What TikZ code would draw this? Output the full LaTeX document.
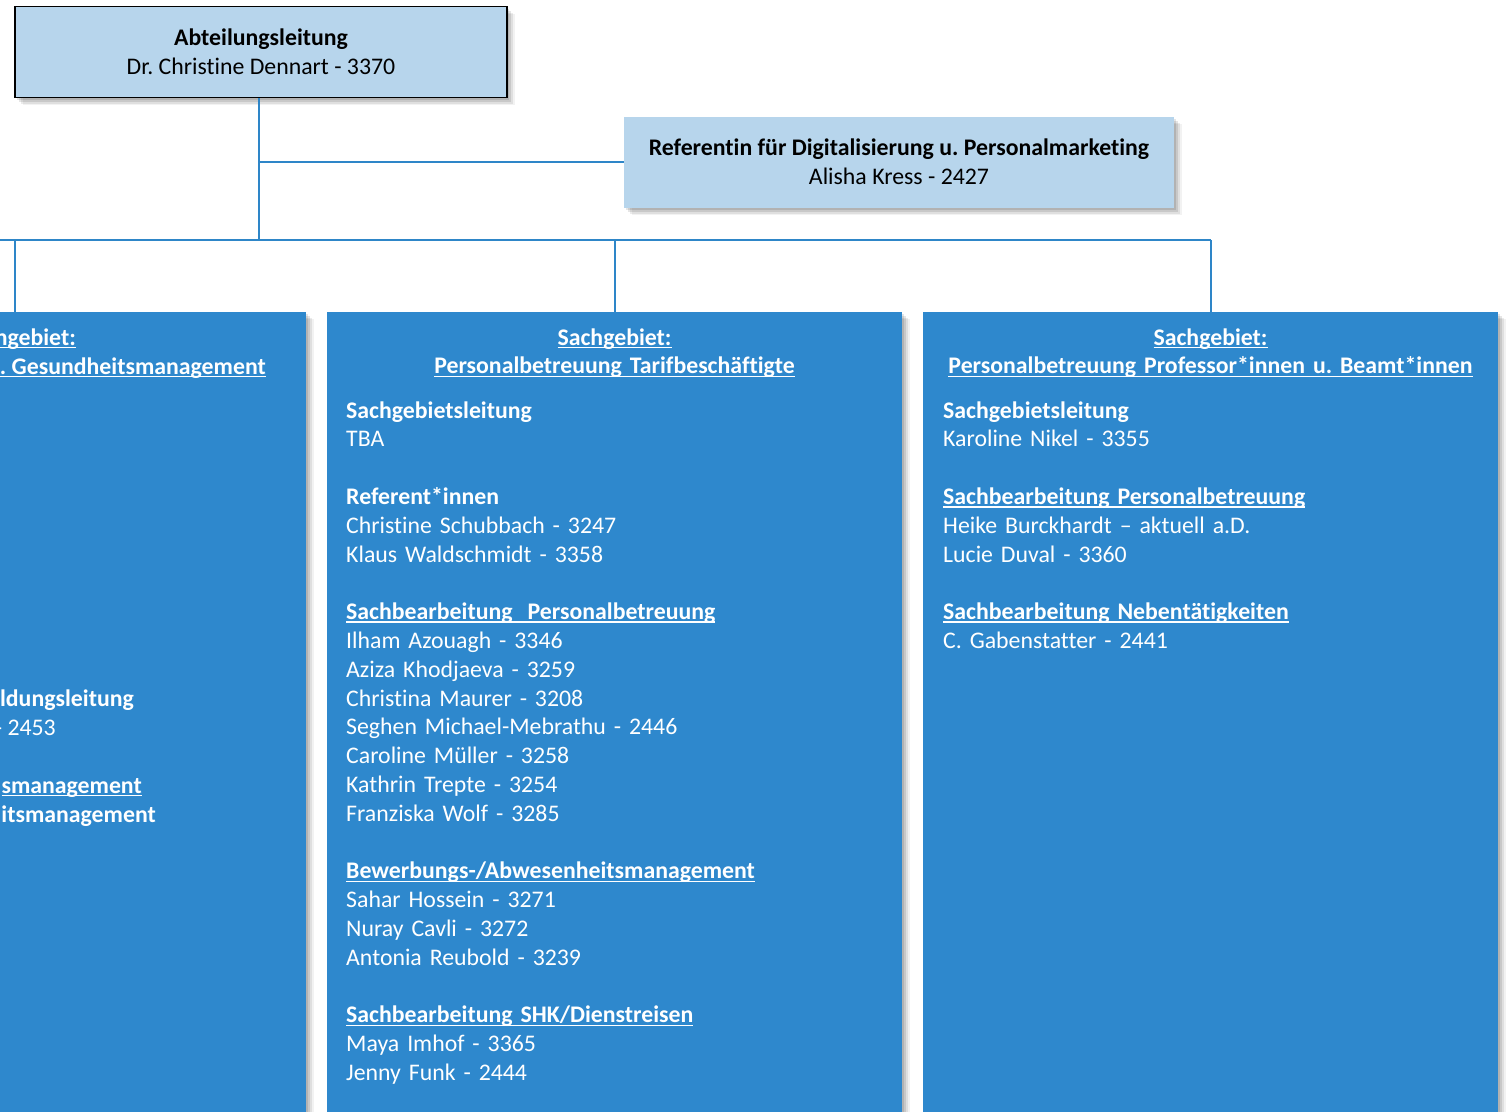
\documentclass[tikz,border=0pt]{standalone}
\usepackage{fontspec}
\setmainfont{Carlito}[Ligatures=NoCommon]
\usetikzlibrary{shadows}
\frenchspacing
\definecolor{lightbox}{HTML}{B7D5EC}
\definecolor{darkbox}{HTML}{2E88CD}
\definecolor{linkblue}{HTML}{2E86C8}
\newlength\myulw
\newcommand\myul[1]{\leavevmode\settowidth\myulw{#1}\rlap{\rule[-3.4pt]{\myulw}{1.6pt}}#1}
\tikzset{
  softshadow/.style={
    general shadow={shadow xshift=2pt, shadow yshift=-2pt, fill=black, opacity=.10},
    general shadow={shadow xshift=4pt, shadow yshift=-4pt, fill=black, opacity=.10},
    general shadow={shadow xshift=6pt, shadow yshift=-6pt, fill=black, opacity=.08},
    general shadow={shadow xshift=8pt, shadow yshift=-7pt, fill=black, opacity=.05}},
  txt/.style={font=\fontsize{23.8pt}{28.8pt}\selectfont\frenchspacing, inner sep=0pt},
  headbox/.style={txt, fill=lightbox, minimum height=91pt, align=center, softshadow},
  unitbox/.style={fill=darkbox, minimum width=575pt, minimum height=830pt, inner sep=0pt, softshadow},
  conn/.style={draw=linkblue, line width=2pt},
  body/.style={txt, text=white, text width=540pt, align=left, anchor=base west},
  head/.style={txt, text=white, text width=560pt, align=center, anchor=base, font=\fontsize{23.8pt}{28.8pt}\selectfont\frenchspacing\bfseries},
  cut/.style={txt, text=white, anchor=base east},
  cutb/.style={cut, font=\fontsize{23.8pt}{28.8pt}\selectfont\bfseries},
}
\begin{document}
\begin{tikzpicture}[x=1pt, y=-1pt]
\clip (0,0) rectangle (1507,1111);
\fill[white] (0,0) rectangle (1507,1111);
% connector points
\coordinate (busL) at (-20,240);
\coordinate (busY) at (259,240);
% boxes
\node[headbox, draw=black, line width=1.3pt, minimum width=492pt] (top) at (261,52)
  {\textbf{Abteilungsleitung}\\Dr. Christine Dennart - 3370};
\node[headbox, minimum width=550pt] (ref) at (899,162)
  {\textbf{Referentin für Digitalisierung u. Personalmarketing}\\Alisha Kress - 2427};
\node[unitbox] (left) at (18.5,727) {};
\node[unitbox] (mid) at (614.5,727) {};
\node[unitbox] (right) at (1210.5,727) {};
% connectors
\draw[conn] (top.south -| busY) -- (busY);
\draw[conn] (ref.west -| busY) -- (ref.west);
\draw[conn] (busL) -- (right.north |- busY);
\draw[conn] ([xshift=-3.5pt]left.north |- busY) -- ([xshift=-3.5pt]left.north);
\draw[conn] (mid.north |- busY) -- (mid.north);
\draw[conn] (right.north |- busY) -- (right.north);
% left box (cut off)
\node[cutb] (lh1) at (76,345) {\myul{ngebiet:}};
\node[cutb] (lh2) at (266,374) {\myul{. Gesundheitsmanagement}};
\node[cutb] (lb1) at (134,706) {ldungsleitung};
\node[cut] (lb2) at (56,735) {- 2453};
\node[cutb] (lb3) at (142,793) {\myul{smanagement}};
\node[cutb] (lb4) at (156,822) {itsmanagement};
% middle box
\node[head] (mh) at (614.5,345) {\myul{Sachgebiet:}\\\myul{Personalbetreuung Tarifbeschäftigte}};
\node[body] (mb) at (346,418) {%
\textbf{Sachgebietsleitung}\\
TBA\\
~\\
\textbf{Referent*innen}\\
Christine Schubbach - 3247\\
Klaus Waldschmidt - 3358\\
~\\
\textbf{\myul{Sachbearbeitung\hspace{0.3em} Personalbetreuung}}\\
Ilham Azouagh - 3346\\
Aziza Khodjaeva - 3259\\
Christina Maurer - 3208\\
Seghen Michael-Mebrathu - 2446\\
Caroline Müller - 3258\\
Kathrin Trepte - 3254\\
Franziska Wolf - 3285\\
~\\
\textbf{\myul{Bewerbungs-/Abwesenheitsmanagement}}\\
Sahar Hossein - 3271\\
Nuray Cavli - 3272\\
Antonia Reubold - 3239\\
~\\
\textbf{\myul{Sachbearbeitung SHK/Dienstreisen}}\\
Maya Imhof - 3365\\
Jenny Funk - 2444};
% right box
\node[head] (rh) at (1210.5,345) {\myul{Sachgebiet:}\\\myul{Personalbetreuung Professor*innen u. Beamt*innen}};
\node[body] (rb) at (943,418) {%
\textbf{Sachgebietsleitung}\\
Karoline Nikel - 3355\\
~\\
\textbf{\myul{Sachbearbeitung Personalbetreuung}}\\
Heike Burckhardt – aktuell a.D.\\
Lucie Duval - 3360\\
~\\
\textbf{\myul{Sachbearbeitung Nebentätigkeiten}}\\
C. Gabenstatter - 2441};
\end{tikzpicture}
\end{document}
